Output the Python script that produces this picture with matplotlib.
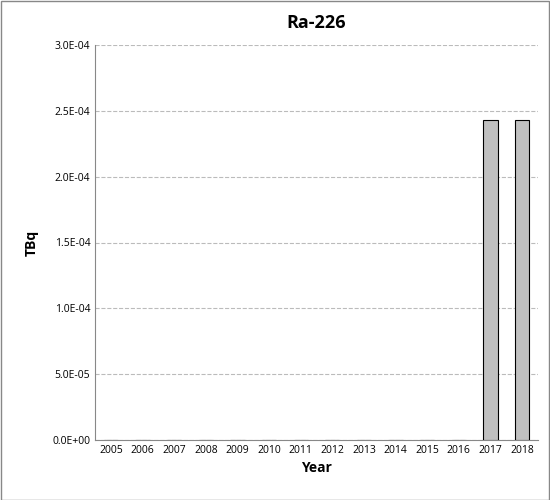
import matplotlib
matplotlib.use("Agg")
import matplotlib.pyplot as plt
from matplotlib.patches import Rectangle

years = [str(y) for y in range(2005, 2019)]
values = [0, 0, 0, 0, 0, 0, 0, 0, 0, 0, 0, 0, 2.43e-4, 2.43e-4]
yticks = [0, 5e-5, 1e-4, 1.5e-4, 2e-4, 2.5e-4, 3e-4]

plt.rcParams['font.family'] = ['Open Sans', 'DejaVu Sans']

fig = plt.figure(figsize=(5.5, 5), dpi=100)
ax = fig.add_axes([0.173, 0.12, 0.805, 0.79])

x = range(len(years))
ax.bar(x, values, width=0.45, color='#c0c0c0', edgecolor='black', linewidth=0.8, zorder=3)

ax.set_xlim(-0.5, len(years) - 0.5)
ax.set_ylim(0, 3e-4)
ax.set_xticks(list(x))
ax.set_xticklabels(years, fontsize=7.5)
ax.set_yticks(yticks)
ax.set_yticklabels(['%.1E' % v for v in yticks], fontsize=7.5)
ax.tick_params(length=0)
ax.grid(axis='y', linestyle='--', color='#bbbbbb', linewidth=0.8, zorder=0)
for s in ['top', 'right']:
    ax.spines[s].set_visible(False)
ax.spines['left'].set_color('#888888')
ax.spines['bottom'].set_color('#888888')

ax.set_xlabel('Year', fontsize=10, fontweight='bold')
ax.set_ylabel('TBq', fontsize=10, fontweight='bold', labelpad=10)
ax.set_title('Ra-226', fontsize=13, fontweight='bold', pad=12)

fig.patches.append(Rectangle((0.001, 0.001), 0.997, 0.997, transform=fig.transFigure,
                             fill=False, edgecolor='#888888', linewidth=1))

fig.savefig('out.png', dpi=100)
